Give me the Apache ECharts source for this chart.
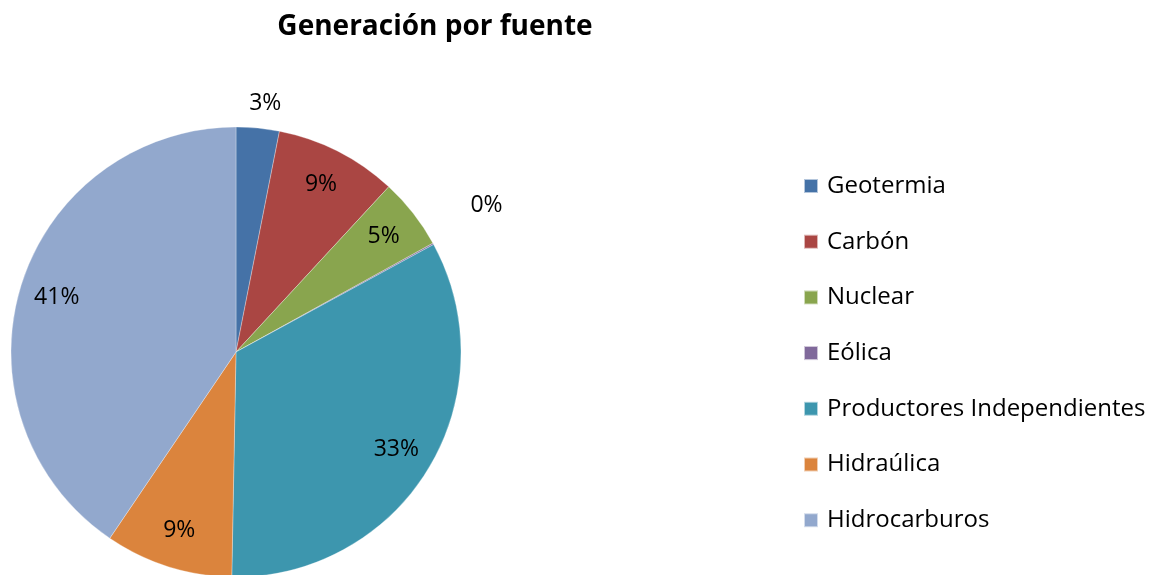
<!DOCTYPE html>
<html lang="es">
<head>
    <meta charset="UTF-8">
    <title>Generación por fuente</title>
    <script src="https://cdn.jsdelivr.net/npm/echarts@6/dist/echarts.min.js"></script>
    <style>
        html, body { margin: 0; padding: 0; background: #fff; }
        #chart { width: 1158px; height: 575px; }
    </style>
</head>
<body>
<div id="chart"></div>

<script>
    // datos de la gráfica
    var fuentes = ['Geotermia', 'Carbón', 'Nuclear', 'Eólica', 'Productores Independientes', 'Hidraúlica', 'Hidrocarburos'];
    var valores = [3.1, 8.8, 5.1, 0.1, 33.3, 9.2, 40.6];
    var colores = ['#4572A7', '#AA4643', '#89A54E', '#80699B', '#3D96AE', '#DB843D', '#92A8CD'];
    // etiquetas que van fuera del pastel
    var fuera = ['Geotermia', 'Eólica'];

    var fuente = '"Open Sans", "Noto Sans", sans-serif';
    var R = 225;

    var chart = echarts.init(document.getElementById('chart'));

    var datos = fuentes.map(function (n, i) {
        return { name: n, value: valores[i] };
    });

    var pct = function (p) { return Math.round(p.percent) + '%'; };

    var option = {
        color: colores,
        title: {
            text: 'Generación por fuente',
            left: 430,
            textAlign: 'center',
            top: 8,
            textStyle: { fontFamily: fuente, fontSize: 28, fontWeight: 'bold', color: '#000' }
        },
        legend: {
            orient: 'vertical',
            left: 798,
            top: 169,
            itemWidth: 14,
            itemHeight: 14,
            itemGap: 31.7,
            icon: 'rect',
            textStyle: { fontFamily: fuente, fontSize: 24, color: '#000', padding: [0, 0, 0, 4] },
            data: fuentes
        },
        series: [
            {
                // pastel principal, etiquetas externas
                type: 'pie',
                center: [236, 352],
                radius: [0, R],
                startAngle: 90,
                clockwise: true,
                avoidLabelOverlap: false,
                itemStyle: { borderColor: 'rgba(255,255,255,0.6)', borderWidth: 0.5 },
                label: {
                    show: true,
                    position: 'outside',
                    formatter: function (p) { return fuera.indexOf(p.name) >= 0 ? pct(p) : ''; },
                    fontFamily: fuente, fontSize: 23, color: '#000'
                },
                labelLine: { show: false, length: 25, length2: 0 },
                labelLayout: function (p) {
                    if (p.dataIndex === 0) return { dx: -p.labelRect.width / 2, dy: 0 };
                    if (p.dataIndex === 3) return { dx: -p.labelRect.width / 2, dy: -12 };
                    return {};
                },
                emphasis: { disabled: true },
                data: datos.map(function (d) {
                    if (d.name === 'Eólica') {
                        return { name: d.name, value: d.value, labelLine: { length: 55, length2: 0 } };
                    }
                    return d;
                })
            },
            {
                // anillo transparente para colocar las etiquetas internas
                type: 'pie',
                center: [236, 352],
                radius: [R * 0.64, R],
                startAngle: 90,
                silent: true,
                itemStyle: { color: 'rgba(0,0,0,0)' },
                label: {
                    show: true,
                    position: 'inside',
                    formatter: function (p) { return fuera.indexOf(p.name) >= 0 ? '' : pct(p); },
                    fontFamily: fuente, fontSize: 23, color: '#000'
                },
                labelLine: { show: false },
                emphasis: { disabled: true },
                tooltip: { show: false },
                data: datos
            }
        ]
    };

    chart.setOption(option);
</script>
</body>
</html>
